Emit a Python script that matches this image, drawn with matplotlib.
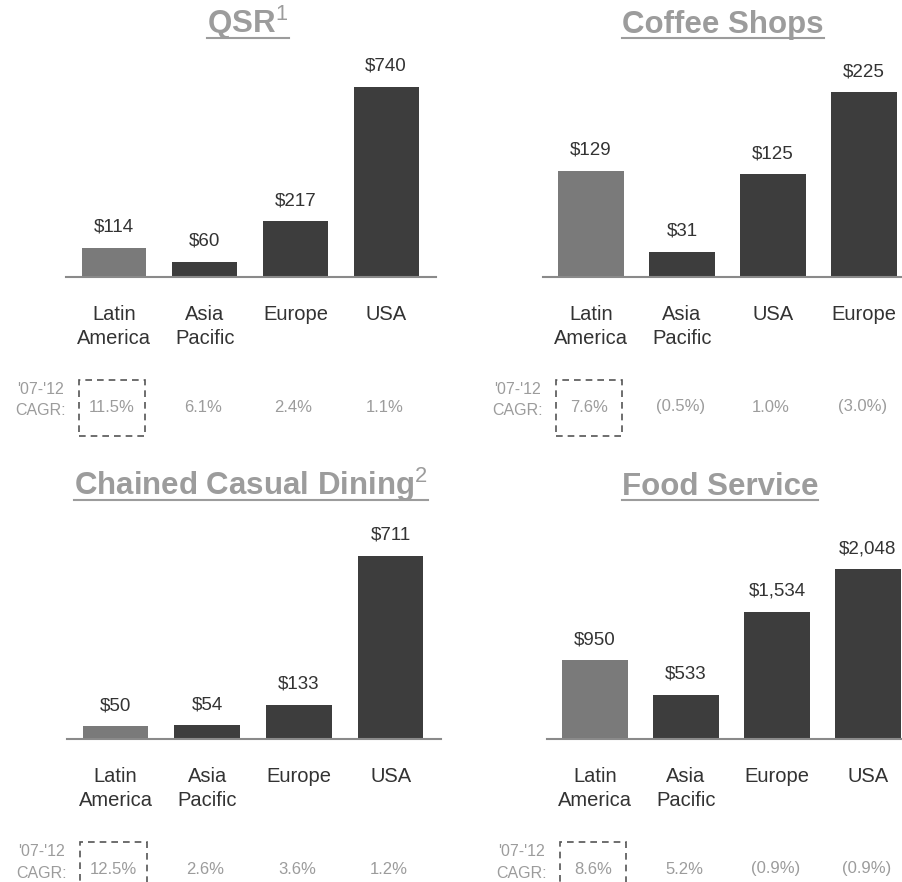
import matplotlib
matplotlib.use("Agg")
import matplotlib.pyplot as plt
from matplotlib.transforms import blended_transform_factory
from matplotlib.patches import Rectangle
from matplotlib.lines import Line2D

plt.rcParams['font.family'] = ['Liberation Sans', 'DejaVu Sans']
plt.rcParams['mathtext.fontset'] = 'custom'
plt.rcParams['mathtext.rm'] = 'Liberation Sans'
plt.rcParams['mathtext.it'] = 'Liberation Sans'
plt.rcParams['mathtext.bf'] = 'Liberation Sans:bold'

# 数据
qsr_regions = ['Latin\nAmerica', 'Asia\nPacific', 'Europe', 'USA']
qsr_values = [114, 60, 217, 740]
qsr_cagr = ['11.5%', '6.1%', '2.4%', '1.1%']

coffee_regions = ['Latin\nAmerica', 'Asia\nPacific', 'USA', 'Europe']
coffee_values = [129, 31, 125, 225]
coffee_cagr = ['7.6%', '(0.5%)', '1.0%', '(3.0%)']

casual_regions = ['Latin\nAmerica', 'Asia\nPacific', 'Europe', 'USA']
casual_values = [50, 54, 133, 711]
casual_cagr = ['12.5%', '2.6%', '3.6%', '1.2%']

food_regions = ['Latin\nAmerica', 'Asia\nPacific', 'Europe', 'USA']
food_values = [950, 533, 1534, 2048]
food_cagr = ['8.6%', '5.2%', '(0.9%)', '(0.9%)']

titles = ['QSR$^1$', 'Coffee Shops', 'Chained Casual Dining$^2$', 'Food Service']

W, H = 903, 882
# 布局(像素): 第一根柱中心, 柱间距, 基线y, 每单位像素, 标题中心x, 标题基线y
layout = [
    (114, 90.7, 277, 0.257, 248, 33),
    (591, 91.0, 277, 0.822, 723, 33),
    (115.5, 91.7, 739, 0.258, 251, 495),
    (595, 91.0, 739, 0.083, 720, 495),
]
panels = [
    (qsr_regions, qsr_values, qsr_cagr),
    (coffee_regions, coffee_values, coffee_cagr),
    (casual_regions, casual_values, casual_cagr),
    (food_regions, food_values, food_cagr),
]

dark = '#3d3d3d'
light = '#7a7a7a'
text_dark = '#333333'
text_gray = '#9c9c9c'
ax_h = 200  # 轴高度(像素)
line_px = 24  # 类别标签行距(像素)


def fy(px):
    return 1 - px / H


fig = plt.figure(figsize=(W / 100, H / 100), dpi=100)
fig.patch.set_facecolor('white')

title_texts = []
for (regions, values, cagr), (c0, sp, base, scale, tx, ty), title in zip(panels, layout, titles):
    lo, hi = -0.53, 3.55
    x0 = c0 + lo * sp
    ax = fig.add_axes([x0 / W, fy(base), (hi - lo) * sp / W, ax_h / H])
    ax.set_xlim(lo, hi)
    ax.set_ylim(0, ax_h / scale)
    for s in ['top', 'left', 'right']:
        ax.spines[s].set_visible(False)
    ax.spines['bottom'].set_color('#8a8a8a')
    ax.spines['bottom'].set_linewidth(1.5)
    ax.set_xticks([])
    ax.set_yticks([])
    ax.patch.set_alpha(0)

    x = list(range(len(values)))
    colors = [light] + [dark] * (len(values) - 1)
    ax.bar(x, values, width=0.715, color=colors, zorder=2)

    tr = blended_transform_factory(ax.transData, fig.transFigure)
    for i, v in enumerate(values):
        ax.annotate(f'${v:,}', xy=(i, v), xytext=(0, 16), textcoords='offset pixels',
                    ha='center', va='baseline', fontsize=13.5, color=text_dark,
                    annotation_clip=False)
        # 多行标签的 baseline 对齐最后一行
        n_extra = regions[i].count('\n')
        ax.text(i, fy(base + 43 + line_px * n_extra), regions[i], transform=tr,
                ha='center', va='baseline', fontsize=14.5, color=text_dark,
                linespacing=1.3)
        ax.text(i - 0.02, fy(base + 130), cagr[i], transform=tr, ha='center',
                va='center', fontsize=12, color=text_gray)

    # CAGR 标签
    ax.text(-0.81, fy(base + 112), "'07-'12", transform=tr, ha='center',
            va='center', fontsize=11.5, color=text_gray)
    ax.text(-0.81, fy(base + 134), 'CAGR:', transform=tr, ha='center',
            va='center', fontsize=11.5, color=text_gray)
    # 虚线框
    box = Rectangle((-0.39, fy(base + 159)), 0.73, 56 / H, transform=tr,
                    fill=False, edgecolor='#555555', linewidth=1.2,
                    linestyle=(0, (4, 3)), clip_on=False)
    ax.add_patch(box)

    t = fig.text(tx / W, fy(ty), title, ha='center', va='baseline',
                 fontsize=22.5, fontweight='bold', color=text_gray)
    title_texts.append((t, ty))

# 标题下划线
fig.canvas.draw()
renderer = fig.canvas.get_renderer()
for t, ty in title_texts:
    bb = t.get_window_extent(renderer)
    fig.add_artist(Line2D([bb.x0 / W, bb.x1 / W], [fy(ty + 5), fy(ty + 5)],
                          transform=fig.transFigure, color=text_gray, linewidth=1.5))

fig.savefig('out.png', dpi=100)
